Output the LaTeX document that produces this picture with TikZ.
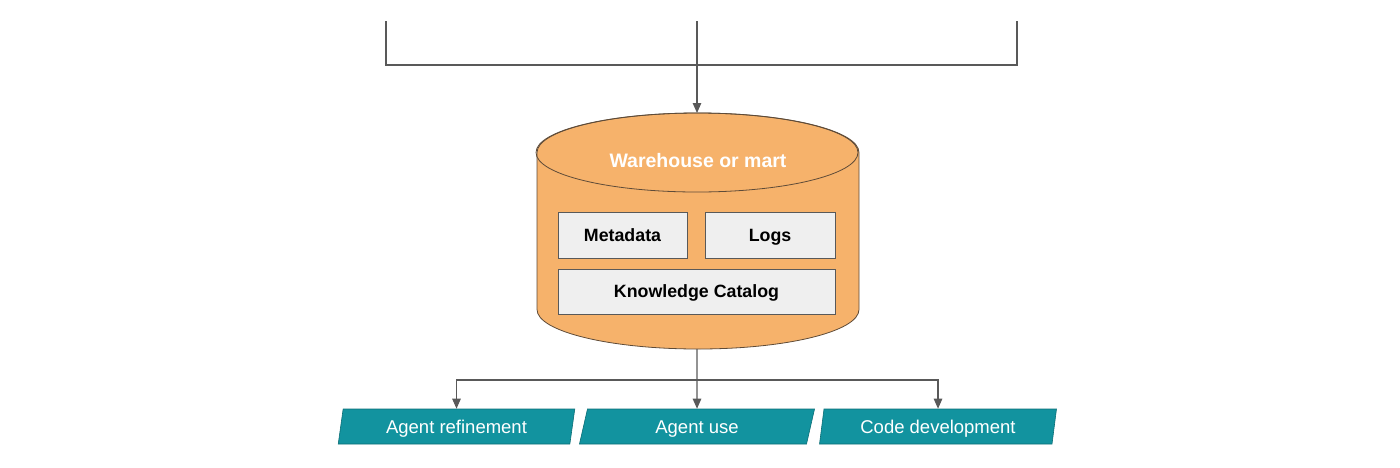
\documentclass[tikz,border=0pt]{standalone}
\usepackage{fontspec}
\setmainfont{Liberation Sans}
\usetikzlibrary{arrows.meta,shapes.geometric}
\definecolor{lineg}{HTML}{595959}
\definecolor{orng}{HTML}{F6B26B}
\definecolor{orngb}{HTML}{5E4B38}
\definecolor{boxg}{HTML}{EFEFEF}
\definecolor{teal1}{HTML}{12939F}
\definecolor{tealb}{HTML}{0C6E76}
\tikzset{
  conn/.style={draw=lineg, line width=1.1pt},
  arr/.style={conn, -{Triangle[length=10pt,width=8.5pt]}},
  innerbox/.style={draw=lineg, fill=boxg, line width=0.8pt, minimum height=46pt,
    font=\fontsize{17.8}{20}\selectfont\bfseries, inner sep=0pt,
    text height=12.8pt, text depth=0pt},
  para/.style={trapezium, trapezium left angle=77, trapezium right angle=103,
    trapezium stretches=true, minimum width=237pt, minimum height=35pt,
    draw=tealb, fill=teal1, line width=0.6pt, text=white, inner sep=0pt,
    font=\fontsize{18.5}{20}\selectfont, text height=13.2pt, text depth=0pt},
}
\begin{document}
\begin{tikzpicture}[x=1pt,y=-1pt]
\useasboundingbox (0,0) rectangle (1400,467);
% top source lines
\coordinate (s1) at (386,21);
\coordinate (s2) at (697,21);
\coordinate (s3) at (1017,21);
\coordinate (j) at (697,65);
\coordinate (cyltop) at (697,113);
\coordinate (cylbot) at (697,349);
\coordinate (k) at (697,380);
% cylinder
\draw[fill=orng, draw=orngb, line width=0.8pt]
  (537,152.5) -- (537,309.5) arc[start angle=180, end angle=360, x radius=161, y radius=-39.5]
  -- (859,152.5) arc[start angle=0, end angle=180, x radius=161, y radius=-39.5] -- cycle;
\draw[draw=orngb, line width=0.8pt] (697,152.5) ellipse[x radius=161, y radius=39.5];
\node[text=white, font=\fontsize{19.5}{22}\selectfont\bfseries, text height=14pt, text depth=0pt, inner sep=0pt] (wh) at (698,160) {Warehouse or mart};
\node[innerbox, minimum width=129pt] (meta) at (622.5,235) {Metadata};
\node[innerbox, minimum width=130pt] (logs) at (770,235) {Logs};
\node[innerbox, minimum width=277pt, minimum height=45pt] (kc) at (696.5,291.5) {Knowledge Catalog};
% bottom nodes
\node[para] (ar) at (456.5,426.5) {Agent refinement};
\node[para] (au) at (697,426.5) {Agent use};
\node[para] (cd) at (938,426.5) {Code development};
% connectors
\draw[conn] (s1) |- (j);
\draw[conn] (s3) |- (j);
\draw[arr] (s2) -- (cyltop);
\draw[arr] (cylbot) -- (au.north);
\draw[arr] (k) -| (ar.north);
\draw[arr] (k) -| (cd.north);
\end{tikzpicture}
\end{document}
